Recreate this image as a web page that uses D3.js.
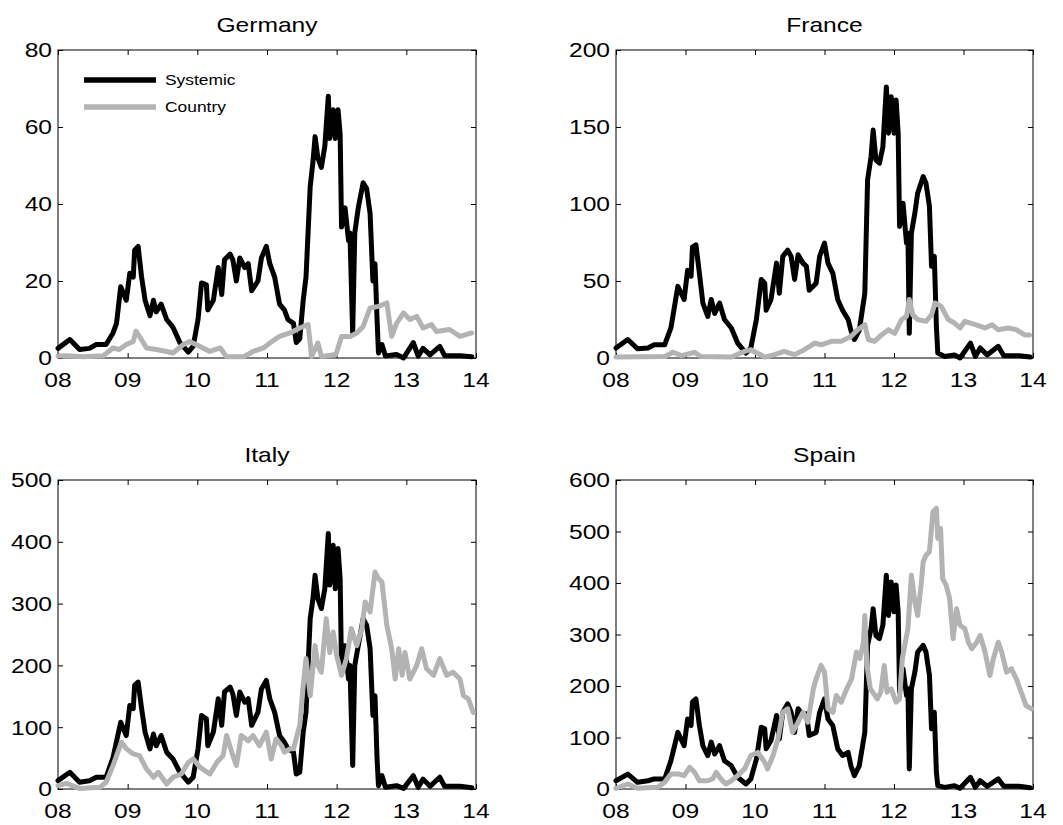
<!DOCTYPE html>
<html><head><meta charset="utf-8">
<script src="https://cdn.jsdelivr.net/npm/d3@7"></script>
<style>
body{margin:0;background:#fff;}
text{font-family:"Liberation Sans",Arial,Helvetica,sans-serif;fill:#000;}
</style></head>
<body><svg id="chart" width="1063" height="825"></svg>
<script>
// ---------- DATA (x = year since 2000, y = value) ----------
const xTickValues = [8, 9, 10, 11, 12, 13, 14];
const xTickLabels = ["08", "09", "10", "11", "12", "13", "14"];
const legendLabels = ["Systemic", "Country"];
const titles = ["Germany", "France", "Italy", "Spain"];
const yMaxes = [80, 200, 500, 600];
const yTicksGermany = [0, 20, 40, 60, 80];
const yTicksFrance = [0, 50, 100, 150, 200];
const yTicksItaly = [0, 100, 200, 300, 400, 500];
const yTicksSpain = [0, 100, 200, 300, 400, 500, 600];

const germanySystemic = [[8.0,2.5],[8.17,4.8],[8.31,2.2],[8.45,2.5],[8.55,3.5],[8.69,3.5],[8.79,6.5],[8.84,9],[8.9,18.5],[8.98,15],[9.03,22],[9.08,21],[9.1,28],[9.15,29],[9.2,21],[9.25,15],[9.32,11],[9.37,15],[9.41,12],[9.48,14],[9.56,10],[9.65,8],[9.75,4],[9.87,1.5],[9.94,3],[10.01,10],[10.06,19.5],[10.13,19],[10.15,12.5],[10.23,15],[10.3,23.5],[10.35,16.5],[10.39,25.5],[10.47,27],[10.51,25.5],[10.56,20],[10.61,26],[10.68,23.5],[10.73,24.5],[10.78,17.5],[10.87,20],[10.92,26],[10.99,29],[11.04,24.5],[11.11,21],[11.18,14],[11.25,12.5],[11.3,10],[11.38,9],[11.42,4],[11.47,5],[11.52,15],[11.56,21],[11.62,44.5],[11.66,51],[11.69,57.5],[11.73,52],[11.78,49.5],[11.83,55],[11.88,68],[11.9,57],[11.95,64.5],[11.98,57],[12.02,64.5],[12.05,58],[12.07,34],[12.12,39],[12.17,30.5],[12.19,32.5],[12.23,6.5],[12.26,32.5],[12.31,39],[12.38,45.5],[12.43,44],[12.48,37.5],[12.52,20],[12.55,24.5],[12.58,10],[12.6,1.3],[12.65,3.5],[12.7,0.5],[12.86,0.9],[12.96,0],[13.1,4],[13.17,0.5],[13.24,2.5],[13.34,0.8],[13.48,3],[13.55,0.6],[13.77,0.6],[13.94,0.3]];
const germanyCountry = [[8.0,0.5],[8.12,0.6],[8.36,0.3],[8.65,0.6],[8.79,2.6],[8.88,2.2],[8.98,3.5],[9.08,4.3],[9.12,7],[9.17,5.6],[9.27,2.6],[9.41,2.2],[9.56,1.7],[9.65,1.3],[9.8,3.5],[9.89,4.3],[10.04,3],[10.18,1.7],[10.33,2.6],[10.42,0.3],[10.66,0.3],[10.8,1.7],[10.95,2.6],[11.04,3.9],[11.18,5.6],[11.33,6.5],[11.47,7.8],[11.59,8.7],[11.64,0.4],[11.73,3.9],[11.78,0.4],[11.99,0.9],[12.07,5.6],[12.19,5.6],[12.29,6.5],[12.38,8.2],[12.48,13],[12.6,13.4],[12.72,14.3],[12.79,5.6],[12.86,9],[12.96,11.7],[13.05,10],[13.15,10.8],[13.24,7.8],[13.36,8.7],[13.43,6.9],[13.62,7.4],[13.77,5.6],[13.94,6.5]];

const franceSystemic = [[8.0,6.5],[8.17,12],[8.31,6],[8.46,6.5],[8.55,8.6],[8.7,8.6],[8.79,19.5],[8.89,46.5],[8.98,38],[9.03,57],[9.08,53],[9.1,72],[9.15,73.5],[9.2,55],[9.25,35.7],[9.32,27],[9.37,38],[9.42,29],[9.49,35.7],[9.56,25],[9.66,19.5],[9.75,9.7],[9.87,3.2],[9.94,6.5],[10.02,25],[10.09,51],[10.14,48.6],[10.16,31],[10.23,38],[10.31,61.6],[10.35,42],[10.4,66],[10.47,70],[10.52,66],[10.57,51],[10.62,67],[10.69,61.6],[10.74,59.5],[10.78,44],[10.88,48.6],[10.93,66],[11.0,74.6],[11.05,61.6],[11.12,55],[11.19,38],[11.26,31],[11.34,25],[11.38,18],[11.43,12],[11.5,18],[11.58,42],[11.62,115.7],[11.67,130.8],[11.7,148],[11.74,128.6],[11.79,126.5],[11.84,137],[11.89,176],[11.92,146],[11.96,169.7],[12.0,146],[12.03,167.6],[12.06,146],[12.08,85.4],[12.13,100.5],[12.18,74.6],[12.2,81],[12.22,16],[12.25,81],[12.3,94],[12.34,107],[12.42,117.8],[12.46,113.5],[12.51,98.4],[12.54,59.5],[12.58,66],[12.61,20.5],[12.63,3.2],[12.73,1],[12.87,2],[12.95,0],[13.1,9.7],[13.17,1],[13.24,6.5],[13.34,2],[13.5,7.6],[13.58,1.5],[13.8,1.5],[13.96,0.6]];
const franceCountry = [[8.0,0.6],[8.7,1],[8.82,3.7],[8.94,1.5],[9.13,3.7],[9.22,1],[9.66,0.6],[9.85,4.3],[9.94,5.4],[10.14,0.6],[10.28,2.2],[10.42,4.3],[10.57,2.2],[10.71,5.4],[10.86,9.7],[10.95,8.6],[11.1,10.8],[11.24,10.8],[11.38,14],[11.48,18.4],[11.58,21.6],[11.63,12],[11.72,10.8],[11.82,15],[11.92,18.4],[12.01,16],[12.11,25],[12.18,27],[12.22,38],[12.27,28],[12.34,25],[12.46,23.8],[12.54,28],[12.59,35.7],[12.68,33.5],[12.78,25],[12.87,22.7],[12.95,19.5],[13.02,23.8],[13.17,21.6],[13.31,19.5],[13.41,21.6],[13.5,18.4],[13.64,19.5],[13.76,18.4],[13.88,15],[13.95,15]];

const italySystemic = [[8.0,13.5],[8.17,27],[8.31,11],[8.45,13.5],[8.55,19],[8.69,19],[8.79,51],[8.9,108],[8.98,86.5],[9.03,135],[9.08,130],[9.1,167.6],[9.15,173],[9.2,130],[9.25,92],[9.32,65],[9.37,89],[9.41,70],[9.48,86.5],[9.56,59.5],[9.65,48.6],[9.75,27],[9.87,11],[9.94,19],[10.01,65],[10.06,119],[10.13,113.5],[10.15,70],[10.23,92],[10.3,146],[10.35,103],[10.39,157],[10.47,165],[10.51,154],[10.56,119],[10.61,157],[10.68,140.5],[10.73,146],[10.78,103],[10.87,124],[10.92,162],[10.99,175.7],[11.04,146],[11.11,124],[11.18,86.5],[11.25,75.7],[11.3,65],[11.38,59.5],[11.42,24.3],[11.47,27],[11.52,92],[11.56,124],[11.62,275.7],[11.66,308],[11.69,346],[11.73,308],[11.78,292],[11.83,324],[11.88,413.5],[11.9,330],[11.95,394.6],[11.98,324],[12.02,389],[12.05,340.5],[12.07,189],[12.12,232],[12.17,178],[12.19,200],[12.23,38],[12.26,200],[12.31,232],[12.38,275.7],[12.43,265],[12.48,227],[12.52,119],[12.55,151],[12.58,48.6],[12.6,5.4],[12.65,21.6],[12.7,2.7],[12.86,5.4],[12.96,1],[13.1,21.6],[13.17,2.7],[13.24,16],[13.34,4.3],[13.48,19],[13.55,4.3],[13.77,4.3],[13.94,2]];
const italyCountry = [[8.0,5.4],[8.12,9.2],[8.31,1],[8.6,2.7],[8.69,11],[8.79,38],[8.91,75.7],[8.98,65],[9.08,56.8],[9.17,54],[9.27,32.4],[9.37,19],[9.44,27],[9.56,8],[9.65,19],[9.77,24.3],[9.87,43],[9.94,48.6],[10.04,35],[10.18,24.3],[10.28,43],[10.37,54],[10.42,86.5],[10.51,54],[10.56,38],[10.63,86.5],[10.73,78],[10.8,86.5],[10.89,70],[10.99,92],[11.06,48.6],[11.13,81],[11.21,70],[11.25,59.5],[11.33,65],[11.38,65],[11.47,103],[11.52,167.6],[11.56,211],[11.62,151],[11.69,232],[11.73,200],[11.78,189],[11.85,275.7],[11.9,221],[11.95,254],[12.0,216],[12.07,184],[12.14,211],[12.21,259.5],[12.29,232],[12.36,259.5],[12.41,302.7],[12.48,286.5],[12.55,351],[12.6,340.5],[12.65,335],[12.72,265],[12.79,227],[12.84,178],[12.89,227],[12.94,184],[12.98,221],[13.05,178],[13.15,200],[13.22,227],[13.29,194.6],[13.39,184],[13.48,211],[13.58,184],[13.67,189],[13.77,178],[13.82,151],[13.89,146],[13.96,124]];

const spainSystemic = [[8.0,16],[8.17,29],[8.31,13],[8.46,16],[8.55,19.5],[8.7,19.5],[8.79,55],[8.89,110],[8.98,84],[9.03,136],[9.08,123],[9.1,168.6],[9.15,175],[9.2,123],[9.25,84],[9.32,65],[9.37,91],[9.42,68],[9.49,84],[9.56,55],[9.66,45],[9.75,22.7],[9.87,9.7],[9.94,19.5],[10.02,58],[10.09,120],[10.14,116.8],[10.16,78],[10.23,94],[10.31,142.7],[10.35,97],[10.4,149],[10.47,165.4],[10.52,149],[10.57,110],[10.62,155.7],[10.69,142.7],[10.74,146],[10.78,104],[10.88,110],[10.93,149],[11.0,175],[11.05,136],[11.12,123],[11.19,78],[11.26,65],[11.34,71],[11.38,45],[11.43,26],[11.5,45],[11.58,110],[11.62,279],[11.67,311],[11.7,350],[11.74,298],[11.79,292],[11.84,318],[11.89,415],[11.92,337],[11.96,402],[12.0,344],[12.03,396],[12.06,344],[12.08,188],[12.13,233.5],[12.18,181.6],[12.2,194.6],[12.22,39],[12.25,194.6],[12.3,227],[12.34,266],[12.42,279],[12.46,266],[12.51,220.5],[12.54,116.8],[12.58,149],[12.61,32.4],[12.63,6.5],[12.73,3.2],[12.87,6.5],[12.95,1.3],[13.1,22.7],[13.17,3.2],[13.24,16],[13.34,5.2],[13.5,19.5],[13.58,5.2],[13.8,5.2],[13.96,2.6]];
const spainCountry = [[8.0,1.3],[8.17,9.7],[8.31,1.3],[8.6,3.2],[8.7,13],[8.79,29],[8.91,29],[8.98,26],[9.06,42],[9.13,32.4],[9.2,16],[9.32,16],[9.39,19.5],[9.44,32.4],[9.51,19.5],[9.58,9.7],[9.66,16],[9.75,26],[9.85,39],[9.94,65],[10.04,71],[10.14,52],[10.18,39],[10.26,65],[10.33,97],[10.4,149],[10.47,155.7],[10.54,110],[10.62,129.7],[10.69,149],[10.76,129.7],[10.84,194.6],[10.88,214],[10.95,240],[11.0,227],[11.05,155.7],[11.12,149],[11.17,181.6],[11.24,168.6],[11.32,194.6],[11.39,214],[11.46,266],[11.51,253.5],[11.56,285],[11.58,337],[11.61,240],[11.66,194.6],[11.76,175],[11.81,188],[11.86,240],[11.9,188],[11.96,194.6],[12.03,168.6],[12.08,175],[12.12,253.5],[12.2,311],[12.25,415],[12.3,363],[12.34,337],[12.39,396],[12.42,441],[12.46,454],[12.51,460.5],[12.56,538],[12.61,545],[12.63,486.5],[12.67,506],[12.7,408.6],[12.75,396],[12.8,370],[12.85,292],[12.9,350],[12.95,318],[13.02,311],[13.07,285],[13.12,272.4],[13.19,285],[13.24,298],[13.31,266],[13.38,220.5],[13.43,253.5],[13.5,285],[13.55,266],[13.62,227],[13.69,233.5],[13.76,214],[13.83,188],[13.9,162],[13.98,155.7]];

// ---------- LAYOUT ----------
const svg = d3.select("#chart");
const panels = [
  {title: titles[0], yMax: yMaxes[0], yTicks: yTicksGermany, sys: germanySystemic, cty: germanyCountry, x0: 58, x1: 476, y0: 50, y1: 358, legend: true},
  {title: titles[1], yMax: yMaxes[1], yTicks: yTicksFrance, sys: franceSystemic, cty: franceCountry, x0: 616, x1: 1033, y0: 50, y1: 358},
  {title: titles[2], yMax: yMaxes[2], yTicks: yTicksItaly, sys: italySystemic, cty: italyCountry, x0: 58, x1: 476, y0: 480, y1: 789},
  {title: titles[3], yMax: yMaxes[3], yTicks: yTicksSpain, sys: spainSystemic, cty: spainCountry, x0: 616, x1: 1033, y0: 480, y1: 789}
];
const SX = 1.2;          // horizontal glyph stretch seen in the reference
const FS = 20.5;         // tick / title font size
const BLACK = "#000000", GRAY = "#b3b3b3";
const LW = 5;

function stext(g, x, y, str, size, anchor, dy) {
  return g.append("text")
    .attr("transform", `translate(${x},${y}) scale(${SX},1)`)
    .attr("text-anchor", anchor)
    .attr("dy", dy || 0)
    .style("font-size", size + "px")
    .text(str);
}

panels.forEach(p => {
  const g = svg.append("g");
  const x = d3.scaleLinear().domain([8, 14]).range([p.x0, p.x1]);
  const y = d3.scaleLinear().domain([0, p.yMax]).range([p.y1, p.y0]);

  // box
  g.append("rect").attr("x", p.x0).attr("y", p.y0)
    .attr("width", p.x1 - p.x0).attr("height", p.y1 - p.y0)
    .attr("fill", "none").attr("stroke", "#000").attr("stroke-width", 1);

  // inward ticks on all four sides
  const axB = d3.axisBottom(x).tickValues(xTickValues).tickSize(-5).tickFormat("").tickSizeOuter(0);
  const axT = d3.axisTop(x).tickValues(xTickValues).tickSize(-5).tickFormat("").tickSizeOuter(0);
  const axL = d3.axisLeft(y).tickValues(p.yTicks).tickSize(-5).tickFormat("").tickSizeOuter(0);
  const axR = d3.axisRight(y).tickValues(p.yTicks).tickSize(-5).tickFormat("").tickSizeOuter(0);
  [[axB, `translate(0,${p.y1})`], [axT, `translate(0,${p.y0})`],
   [axL, `translate(${p.x0},0)`], [axR, `translate(${p.x1},0)`]].forEach(([ax, tr]) => {
    const a = g.append("g").attr("transform", tr).call(ax);
    a.select(".domain").remove();
    a.selectAll("line").attr("stroke", "#000").attr("stroke-width", 1);
  });

  // tick labels
  xTickValues.forEach((v, i) => stext(g, x(v), p.y1 + 29, xTickLabels[i], FS, "middle"));
  p.yTicks.forEach(v => stext(g, p.x0 - 6, y(v), String(v), FS, "end", "0.36em"));

  // title
  stext(g, (p.x0 + p.x1) / 2, p.y0 - 18, p.title, FS, "middle");

  // lines: systemic first, then country on top
  const line = d3.line().x(d => x(d[0])).y(d => y(d[1]));
  g.append("path").datum(p.sys).attr("d", line)
    .attr("fill", "none").attr("stroke", BLACK).attr("stroke-width", LW)
    .attr("stroke-linejoin", "round").attr("stroke-linecap", "round");
  g.append("path").datum(p.cty).attr("d", line)
    .attr("fill", "none").attr("stroke", GRAY).attr("stroke-width", LW)
    .attr("stroke-linejoin", "round").attr("stroke-linecap", "round");

  if (p.legend) {
    const lg = g.append("g");
    [[BLACK, legendLabels[0], 80], [GRAY, legendLabels[1], 107]].forEach(([c, lab, ly]) => {
      lg.append("line").attr("x1", 84).attr("x2", 156).attr("y1", ly).attr("y2", ly)
        .attr("stroke", c).attr("stroke-width", 5.5);
      stext(lg, 165, ly, lab, 14.5, "start", "0.35em");
    });
  }
});
</script></body></html>
